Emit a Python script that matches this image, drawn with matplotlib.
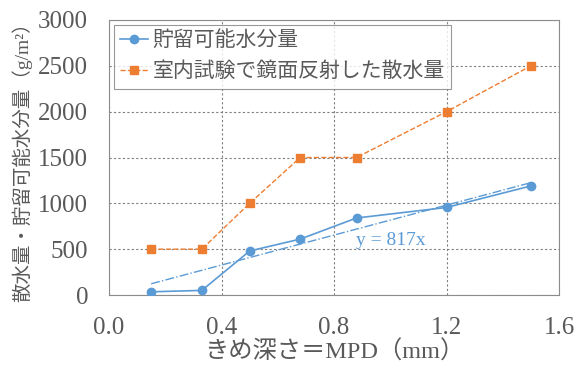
import numpy as np
import matplotlib.pyplot as plt

# Data
mpd = [0.15, 0.33, 0.50, 0.68, 0.88, 1.20, 1.50]
storable = [35, 50, 480, 610, 840, 955, 1190]
sprinkled = [500, 500, 1000, 1500, 1500, 2000, 2500]
slope = 817  # linear fit through origin

x_ticks = [0.0, 0.4, 0.8, 1.2, 1.6]
y_ticks = [0, 500, 1000, 1500, 2000, 2500, 3000]

BLUE = '#5B9BD5'
ORANGE = '#ED7D31'
GRAY = '#595959'
FONTS = ['Liberation Serif', 'Noto Sans CJK JP']

plt.rcParams['font.family'] = FONTS

fig = plt.figure(figsize=(5.74, 3.69), dpi=100)
ax = fig.add_axes([109 / 574, 1 - 295 / 369, 450 / 574, 275 / 369])

ax.plot(mpd, storable, '-o', color=BLUE, linewidth=1.2, markersize=6,
        label='貯留可能水分量', zorder=4)
ax.plot(mpd, sprinkled, '--s', color=ORANGE, linewidth=1.0, markersize=6,
        label='室内試験で鏡面反射した散水量', zorder=4)

fit_x = np.array([mpd[0], mpd[-1]])
ax.plot(fit_x, slope * fit_x, '-.', color=BLUE, linewidth=1.0, zorder=3)
ax.text(0.88, 590, f'y = {slope}x', color=BLUE, fontsize=14,
        ha='left', va='center', family=FONTS)

ax.set_xlim(0, 1.6)
ax.set_ylim(0, 3000)
ax.set_xticks(x_ticks)
ax.set_xticklabels([f'{v:.1f}' for v in x_ticks])
ax.set_yticks(y_ticks)
ax.grid(True, color='#7f7f7f', linestyle=(0, (2, 2)), linewidth=0.8)
ax.set_axisbelow(True)

for s in ax.spines.values():
    s.set_color('#8c8c8c')
ax.tick_params(length=0, labelsize=18, colors=GRAY)
ax.tick_params(axis='y', pad=15)
ax.tick_params(axis='x', pad=16)

ax.set_xlabel('きめ深さ＝MPD（mm）', fontsize=17.5, color=GRAY, labelpad=1)
ax.set_ylabel('散水量・貯留可能水分量（g/m²）', fontsize=14, color=GRAY,
              labelpad=4)

leg = ax.legend(loc='upper left', fontsize=15, frameon=True, fancybox=False,
                edgecolor='#7f7f7f', borderaxespad=0.25, handlelength=1.3,
                handletextpad=0.25, borderpad=0.3, labelspacing=0.55)
leg.get_frame().set_linewidth(0.8)
for t in leg.get_texts():
    t.set_color(GRAY)

fig.savefig('out.png', dpi=100)
